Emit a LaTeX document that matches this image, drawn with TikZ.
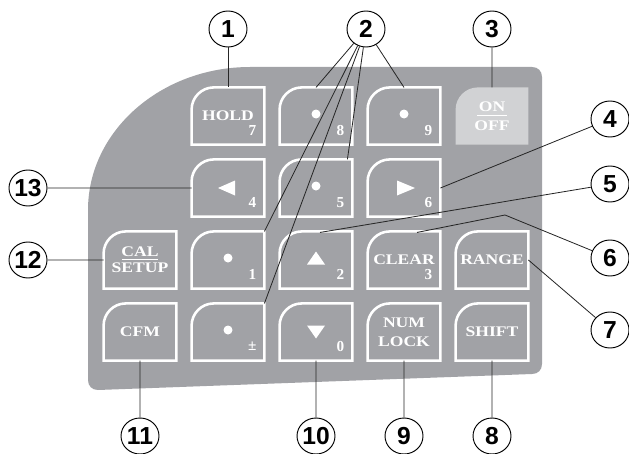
\documentclass[tikz,border=0pt]{standalone}
\usepackage{fontspec}
\setmainfont{Liberation Serif}
\newfontfamily\keyfont[FakeStretch=1.2]{Liberation Serif}
\newfontfamily\calloutfont{Liberation Sans}
\usetikzlibrary{calc,shapes.geometric}
\definecolor{panelgray}{HTML}{A1A2A6}
\definecolor{switchgray}{HTML}{D1D2D4}
% outline of a key, only the top left corner is round
\newcommand{\keyoutline}[2]{%
  \path[#2] (#1.south west) -- ($(#1.north west)+(0,22)$)
    .. controls ($(#1.north west)+(0,10)$) and ($(#1.north west)+(10,0)$) .. ($(#1.north west)+(22,0)$)
    -- (#1.north east) -- (#1.south east) -- cycle;}

\begin{document}
\begin{tikzpicture}[x=0.03cm, y=-0.03cm, node distance=2.64cm,
  keybox/.style={rectangle, minimum width=2.17cm, minimum height=1.7cm, inner sep=0pt, text=white, align=center, font=\keyfont\bfseries\fontsize{12.5}{14}\selectfont},
  keyrim/.style={draw=white, line width=2.2pt},
  keynum/.style={text=white, inner sep=0pt, font=\bfseries\fontsize{13}{14}\selectfont},
  callout/.style={ellipse, draw, line width=0.8pt, minimum width=1.14cm, minimum height=1.08cm, inner sep=-2pt, font=\calloutfont\bfseries\fontsize{21}{21}\selectfont},
  leader/.style={draw=black!85, line width=0.7pt}]
  \useasboundingbox (0,0) rectangle (629,453);

  % panel
  \fill[panelgray] (88,210) .. controls (88,131) and (161,67) .. (250,67) -- (532,67)
    .. controls (538,67) and (542,71) .. (542,77) -- (542,364)
    .. controls (542,370) and (538,374) .. (532,374) -- (98,390)
    .. controls (92,390) and (88,386) .. (88,380) -- cycle;

  % keys
  \node[keybox] (hold) at (228,116) {HOLD};
  \node[keybox, right of=hold] (k8) {};
  \node[keybox, right of=k8] (k9) {};
  \node[keybox, right of=k9] (onoff) {};
  \node[keybox, below of=hold, yshift=0.48cm] (kleft) {};
  \node[keybox, right of=kleft] (k5) {};
  \node[keybox, right of=k5] (kright) {};
  \node[keybox, below of=kleft, yshift=0.48cm] (k1) {};
  \node[keybox, left of=k1] (cal) {CAL\\[-11pt]\rule{30pt}{0.7pt}\\[-3.3pt]SETUP};
  \node[keybox, right of=k1] (kup) {};
  \node[keybox, right of=kup] (clear) {CLEAR};
  \node[keybox, right of=clear] (range) {RANGE};
  \node[keybox, below of=k1, yshift=0.48cm] (kpm) {};
  \node[keybox, left of=kpm] (cfm) {CFM};
  \node[keybox, right of=kpm] (kdown) {};
  \node[keybox, right of=kdown] (numlock) {NUM\\[2pt]LOCK};
  \node[keybox, right of=numlock] (shift) {SHIFT};

  \foreach \k in {hold,k8,k9,kleft,k5,kright,k1,cal,kup,clear,range,kpm,cfm,kdown,numlock,shift}
    \keyoutline{\k}{keyrim};

  % on/off switch
  \keyoutline{onoff}{fill=switchgray}
  \node[keybox] (onofftext) at (onoff) {ON\\[-10.3pt]\rule{25pt}{0.7pt}\\[-1.7pt]OFF};

  % digits and symbols
  \foreach \k/\d in {hold/7,k8/8,k9/9,kleft/4,k5/5,kright/6,k1/1,kup/2,clear/3,kpm/±,kdown/0}
    \node[keynum] (n-\k) at ($(\k.south east)+(-12,-14)$) {\d};
  \foreach \k in {k8,k9,k5,k1,kpm}
    \fill[white] ($(\k)+(0,-2)$) circle (4.5);
  \fill[white] ($(kleft)+(-10,0)$) -- ++(17,-7.5) -- ++(0,15) -- cycle;
  \fill[white] ($(kright)+(11,0)$) -- ++(-18,-7.5) -- ++(0,15) -- cycle;
  \fill[white] ($(kup)+(0,-8.5)$) -- ++(9,13) -- ++(-18,0) -- cycle;
  \fill[white] ($(kdown)+(0,6.5)$) -- ++(9,-13) -- ++(-18,0) -- cycle;

  % callouts
  \node[callout] (c1) at (228,29) {1};
  \node[callout] (c2) at (366,29) {2};
  \node[callout] (c3) at (492,29) {3};
  \node[callout] (c4) at (610,119) {4};
  \node[callout] (c5) at (610,184) {5};
  \node[callout] (c6) at (610,258) {6};
  \node[callout] (c7) at (610,330) {7};
  \node[callout] (c8) at (492,436) {8};
  \node[callout] (c9) at (404,436) {9};
  \node[callout] (c10) at (316,436) {10};
  \node[callout] (c11) at (140,436) {11};
  \node[callout] (c12) at (28,260) {12};
  \node[callout] (c13) at (28,188) {13};

  \draw[leader] (c1) -- (hold.north);
  \draw[leader] (c2) -- (k8.north);
  \draw[leader] (c2) -- (k9.north);
  \draw[leader] (c2) -- ($(k5.north east)+(-5,0)$);
  \draw[leader] (c2) -- (k1.north east);
  \draw[leader] (c2) -- (kpm.north east);
  \draw[leader] (c3) -- (onoff.north);
  \draw[leader] (c4) -- (kright.east);
  \draw[leader] (c5) -- ($(kup.north)+(4,1)$);
  \coordinate (bend6) at (505,215);
  \draw[leader] (c6) -- (bend6) -- ($(clear.north)+(13,1)$);
  \draw[leader] (c7) -- (range.east);
  \draw[leader] (shift) -- (c8);
  \draw[leader] (numlock) -- (c9);
  \draw[leader] (kdown) -- (c10);
  \draw[leader] (cfm) -- (c11);
  \draw[leader] (c12) -- (cal);
  \draw[leader] (c13) -- (kleft);
\end{tikzpicture}
\end{document}
